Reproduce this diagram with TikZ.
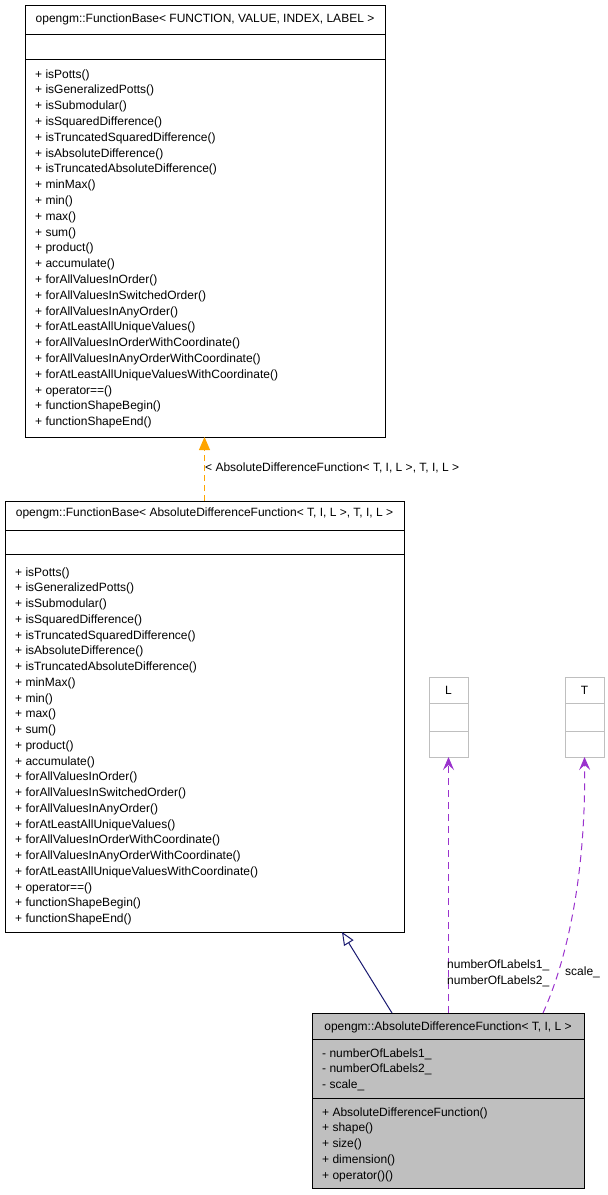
\documentclass[tikz,border=0pt]{standalone}
\usepackage{fontspec}
\setmainfont{Liberation Sans}
\usetikzlibrary{arrows.meta,calc}
\definecolor{dxorange}{HTML}{FFA500}
\definecolor{dxpurple}{HTML}{9A32CD}
\definecolor{dxnavy}{HTML}{191970}
\definecolor{dxgray}{HTML}{BFBFBF}
\tikzset{
  umlbox/.style={draw=black, line width=1pt, inner sep=0pt, outer sep=0pt},
  tplbox/.style={draw=dxgray, line width=1pt, inner sep=0pt, outer sep=0pt, minimum width=39pt, minimum height=80pt},
  sepline/.style={draw=black, line width=1pt},
  tplsep/.style={draw=dxgray, line width=1pt},
  txt/.style={inner sep=0pt, anchor=west, font=\fontsize{12}{14}\selectfont},
  ctxt/.style={inner sep=0pt, font=\fontsize{12}{14}\selectfont},
  inheritedge/.style={draw=dxorange, line width=0.9pt, dash pattern=on 6pt off 4pt, -{Triangle[length=13pt,width=11pt,fill=dxorange]}},
  derivedge/.style={draw=dxnavy, line width=1pt, -{Triangle[open,length=13pt,width=11pt,fill=white]}},
  usageedge/.style={draw=dxpurple, line width=1pt, dash pattern=on 7pt off 5pt, -{Stealth[length=13pt,width=11pt,inset=5pt]}},
}
\begin{document}
\begin{tikzpicture}[x=1pt,y=-1pt]
\useasboundingbox (0,0) rectangle (608,1195);
% ---------- top box ----------
\node[umlbox, minimum width=360pt, minimum height=432pt] (base) at (205,221) {};
\draw[sepline] (25,34) -- (385,34);
\draw[sepline] (25,59) -- (385,59);
\node[ctxt] (basetitle) at (205,19) {opengm::FunctionBase< FUNCTION, VALUE, INDEX, LABEL >};
\foreach \t [count=\i from 0] in {isPotts(),isGeneralizedPotts(),isSubmodular(),isSquaredDifference(),isTruncatedSquaredDifference(),isAbsoluteDifference(),isTruncatedAbsoluteDifference(),minMax(),min(),max(),sum(),product(),accumulate(),forAllValuesInOrder(),forAllValuesInSwitchedOrder(),forAllValuesInAnyOrder(),forAtLeastAllUniqueValues(),forAllValuesInOrderWithCoordinate(),forAllValuesInAnyOrderWithCoordinate(),forAtLeastAllUniqueValuesWithCoordinate(),operator==(),functionShapeBegin(),functionShapeEnd()}
  \node[txt] (basem\i) at (35,75+15.8*\i) {+ \t};
% ---------- middle box ----------
\node[umlbox, minimum width=399pt, minimum height=431pt] (mid) at (204.5,716.5) {};
\draw[sepline] (5,530) -- (404,530);
\draw[sepline] (5,554) -- (404,554);
\node[ctxt] (midtitle) at (204.5,513) {opengm::FunctionBase< AbsoluteDifferenceFunction< T, I, L >, T, I, L >};
\foreach \t [count=\i from 0] in {isPotts(),isGeneralizedPotts(),isSubmodular(),isSquaredDifference(),isTruncatedSquaredDifference(),isAbsoluteDifference(),isTruncatedAbsoluteDifference(),minMax(),min(),max(),sum(),product(),accumulate(),forAllValuesInOrder(),forAllValuesInSwitchedOrder(),forAllValuesInAnyOrder(),forAtLeastAllUniqueValues(),forAllValuesInOrderWithCoordinate(),forAllValuesInAnyOrderWithCoordinate(),forAtLeastAllUniqueValuesWithCoordinate(),operator==(),functionShapeBegin(),functionShapeEnd()}
  \node[txt] (midm\i) at (15,573+15.75*\i) {+ \t};
% ---------- L and T boxes ----------
\node[tplbox] (L) at (448.5,717) {};
\draw[tplsep] (429,703) -- (468,703);
\draw[tplsep] (429,731) -- (468,731);
\node[ctxt] (Ltitle) at (448.5,690) {L};
\node[tplbox] (T) at (584.5,717) {};
\draw[tplsep] (565,703) -- (604,703);
\draw[tplsep] (565,731) -- (604,731);
\node[ctxt] (Ttitle) at (584.5,690) {T};
% ---------- bottom box ----------
\node[umlbox, fill=dxgray, minimum width=272pt, minimum height=175pt] (bot) at (448,1100.5) {};
\draw[sepline] (312,1039) -- (584,1039);
\draw[sepline] (312,1098) -- (584,1098);
\node[ctxt] (bottitle) at (448,1027) {opengm::AbsoluteDifferenceFunction< T, I, L >};
\foreach \t [count=\i from 0] in {numberOfLabels1\_,numberOfLabels2\_,scale\_}
  \node[txt] (bota\i) at (322,1054+15.6*\i) {- \t};
\foreach \t [count=\i from 0] in {AbsoluteDifferenceFunction(),shape(),size(),dimension(),operator()()}
  \node[txt] (botm\i) at (322,1113+15.75*\i) {+ \t};
% ---------- edges ----------
\draw[inheritedge] (mid.north) -- (mid.north |- base.south);
\node[txt] (inhlabel) at (205,468) {< AbsoluteDifferenceFunction< T, I, L >, T, I, L >};
\coordinate (dstart) at ($(bot.north west)+(80,0)$);
\coordinate (dend) at ($(mid.south east)+(-62,0)$);
\draw[derivedge] (dstart) -- (dend);
\draw[usageedge] (bot.north -| L.south) -- (L.south);
\node[txt] (ulabel1) at (447,965) {numberOfLabels1\_};
\node[txt] (ulabel2) at (447,981) {numberOfLabels2\_};
\coordinate (sstart) at ($(bot.north west)+(231,0)$);
\draw[usageedge] (sstart) .. controls (567,960) and (586,875) .. (T.south);
\node[txt] (slabel) at (565,972) {scale\_};
\end{tikzpicture}
\end{document}
